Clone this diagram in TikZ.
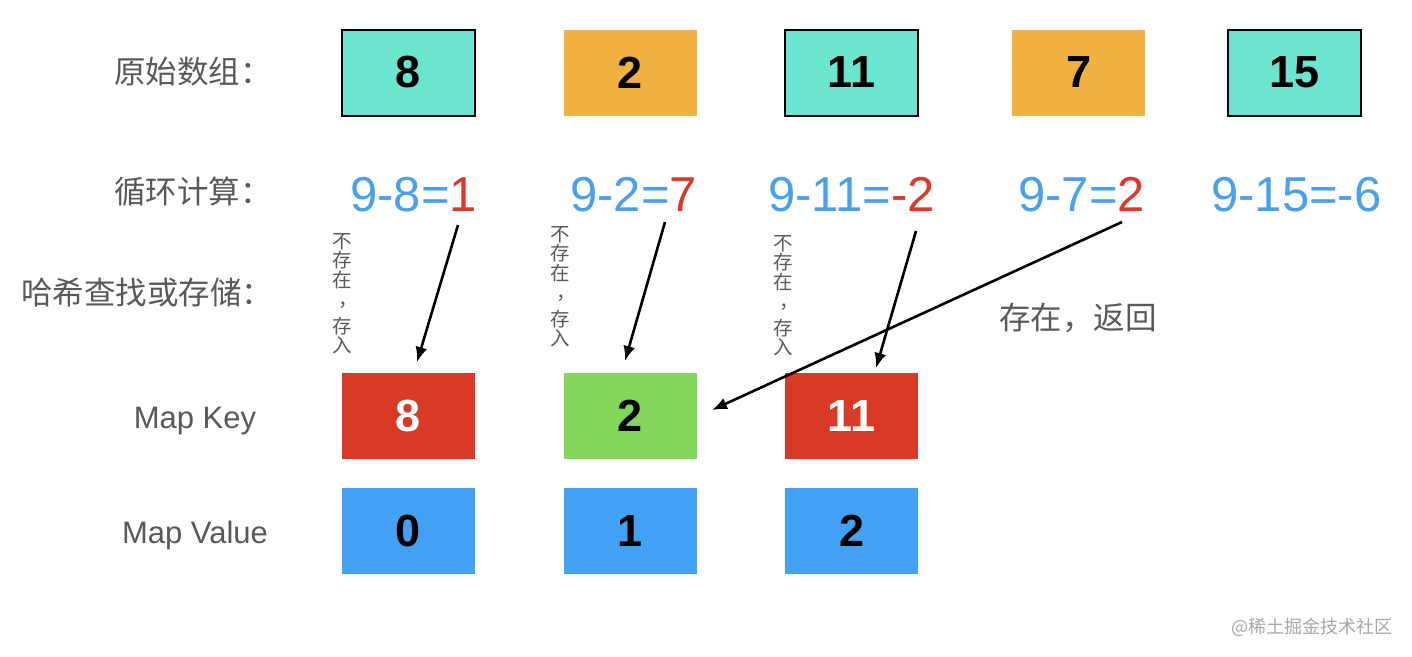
\documentclass[tikz,border=0pt]{standalone}
\usepackage{fontspec}
\setmainfont{Liberation Sans}
\newfontfamily\cjk{Noto Sans CJK SC}
\usetikzlibrary{arrows.meta}
\definecolor{tealc}{HTML}{6CE5D0}
\definecolor{orangec}{HTML}{F1B13F}
\definecolor{redc}{HTML}{D93A26}
\definecolor{greenc}{HTML}{84D65A}
\definecolor{bluec}{HTML}{42A0F5}
\definecolor{eqblue}{HTML}{4A9FEF}
\definecolor{eqred}{HTML}{D9392B}
\definecolor{labelgray}{HTML}{595959}
\definecolor{wmgray}{HTML}{A8A8A8}
\newcommand{\vcomma}{\makebox[1em][l]{\hspace{0.32em}，}}
\begin{document}
\begin{tikzpicture}[x=1pt,y=-1pt,
  cell/.style={rectangle,minimum width=133pt,minimum height=86pt,inner sep=0pt,
    font=\fontsize{45}{45}\selectfont\bfseries},
  topteal/.style={cell,fill=tealc,draw=black,line width=2pt},
  toporange/.style={cell,fill=orangec},
  keyred/.style={cell,fill=redc,text=white},
  keygreen/.style={cell,fill=greenc,text=black},
  valblue/.style={cell,fill=bluec,text=black},
  cjklabel/.style={inner sep=0pt,anchor=west,text=labelgray,font=\cjk\fontsize{31.5}{31.5}\selectfont},
  enlabel/.style={inner sep=0pt,anchor=base,text=labelgray,font=\fontsize{31}{31}\selectfont},
  eq/.style={inner sep=0pt,anchor=base west,text=eqblue,font=\fontsize{49}{49}\selectfont},
  vtext/.style={inner sep=0pt,anchor=north,align=center,text=labelgray,
    font=\cjk\fontsize{19.5}{19.5}\selectfont},
  arr/.style={line width=2.6pt,-{Latex[length=15pt,width=12pt]}}
]
\useasboundingbox[fill=white] (0,0) rectangle (1412,656);

% left labels
\node[cjklabel] (l1) at (114,72) {原始数组：};
\node[cjklabel] (l2) at (114,192) {循环计算：};
\node[cjklabel] (l3) at (21,292.5) {哈希查找或存储：};
\node[enlabel] (l4) at (195,428) {Map Key};
\node[enlabel] (l5) at (195,543) {Map Value};

% original array
\node[topteal]   (a1) at (408.5,72.5) {8};
\node[toporange] (a2) at (630,72.5) {2};
\node[topteal]   (a3) at (851.5,72.5) {11};
\node[toporange] (a4) at (1078.5,72.5) {7};
\node[topteal]   (a5) at (1294.5,72.5) {15};

% equations
\node[eq] (e1) at (350,211) {9-8=\textcolor{eqred}{1}};
\node[eq] (e2) at (570,211) {9-2=\textcolor{eqred}{7}};
\node[eq] (e3) at (768,211) {9-11=\textcolor{eqred}{-2}};
\node[eq] (e4) at (1018,211) {9-7=\textcolor{eqred}{2}};
\node[eq] (e5) at (1211,211) {9-15=-6};

% map key
\node[keyred]   (k1) at (408.5,416) {8};
\node[keygreen] (k2) at (630,416) {2};
\node[keyred]   (k3) at (851.5,416) {11};

% map value
\node[valblue] (v1) at (408.5,531) {0};
\node[valblue] (v2) at (630,531) {1};
\node[valblue] (v3) at (851.5,531) {2};

% vertical notes
\node[vtext] (n1) at (342,233) {不\\存\\在\\\vcomma\\[7pt]存\\入};
\node[vtext] (n2) at (560,226) {不\\存\\在\\\vcomma\\[7pt]存\\入};
\node[vtext] (n3) at (783,235) {不\\存\\在\\\vcomma\\[7pt]存\\入};
\node[cjklabel] (n4) at (999,318) {存在，返回};

% arrows
\coordinate (s1) at (458,225);
\coordinate (t1) at (417,362);
\coordinate (s2) at (665,222);
\coordinate (t2) at (625,361);
\coordinate (s3) at (916,231);
\coordinate (t3) at (876,368);
\coordinate (s4) at (1122,222);
\coordinate (t4) at (712,410);
\draw[arr] (s1) -- (t1);
\draw[arr] (s2) -- (t2);
\draw[arr] (s3) -- (t3);
\draw[arr] (s4) -- (t4);

% watermark
\node[inner sep=0pt,anchor=west,text=wmgray,font=\cjk\fontsize{18}{18}\selectfont] (wm) at (1231,627) {@稀土掘金技术社区};
\end{tikzpicture}
\end{document}
